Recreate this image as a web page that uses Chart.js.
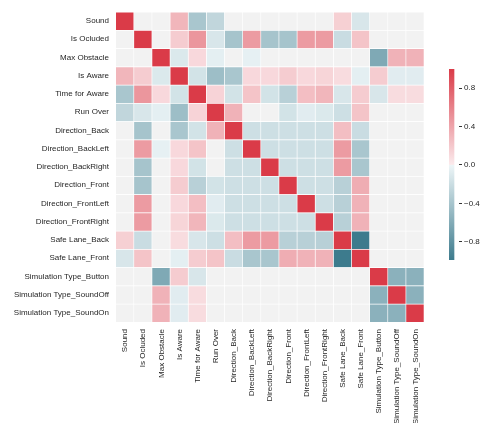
<!DOCTYPE html>
<html><head><meta charset="utf-8">
<script src="https://cdn.jsdelivr.net/npm/chart.js@4/dist/chart.umd.min.js"></script>
<style>
body{margin:0;background:#fff}
#wrap{position:relative;width:483px;height:423px;overflow:hidden}
#hm{position:absolute;left:0;top:0}
#cb{position:absolute;left:440px;top:0}
</style></head>
<body><div id="wrap"><canvas id="hm" width="432" height="423"></canvas><canvas id="cb" width="43" height="423"></canvas></div>
<script>
const variables = ["Sound","Is Ocluded","Max Obstacle","Is Aware","Time for Aware","Run Over","Direction_Back","Direction_BackLeft","Direction_BackRight","Direction_Front","Direction_FrontLeft","Direction_FrontRight","Safe Lane_Back","Safe Lane_Front","Simulation Type_Button","Simulation Type_SoundOff","Simulation Type_SoundOn"];

const rowSound        = [1, 0, 0, 0.3, -0.38, -0.25, 0, 0, 0, 0, 0, 0, 0.15, -0.12, 0, 0, 0];
const rowIsOcluded    = [0, 1, 0, 0.17, 0.48, -0.12, -0.4, 0.45, -0.4, -0.4, 0.45, 0.45, -0.2, 0.22, 0, 0, 0];
const rowMaxObstacle  = [0, 0, 1, -0.1, 0.1, -0.05, 0, -0.04, 0, 0, 0, 0, 0, 0, -0.62, 0.32, 0.32];
const rowIsAware      = [0.3, 0.17, -0.1, 1, -0.15, -0.45, -0.38, 0.1, 0.1, 0.17, 0.1, 0.12, 0.08, -0.05, 0.17, -0.07, -0.07];
const rowTimeForAware = [-0.38, 0.48, 0.1, -0.15, 1, 0.13, -0.15, 0.22, -0.15, -0.3, 0.25, 0.3, -0.12, 0.17, -0.12, 0.08, 0.08];
const rowRunOver      = [-0.25, -0.12, -0.05, -0.45, 0.13, 1, 0.32, 0, 0, -0.15, -0.07, -0.1, -0.18, 0.22, 0, 0, 0];
const rowBack         = [0, -0.4, 0, -0.38, -0.15, 0.32, 1, -0.18, -0.18, -0.18, -0.18, -0.18, 0.25, -0.2, 0, 0, 0];
const rowBackLeft     = [0, 0.45, -0.04, 0.1, 0.22, 0, -0.18, 1, -0.18, -0.18, -0.18, -0.18, 0.45, -0.38, 0, 0, 0];
const rowBackRight    = [0, -0.4, 0, 0.1, -0.15, 0, -0.18, -0.18, 1, -0.18, -0.18, -0.18, 0.45, -0.38, 0, 0, 0];
const rowFront        = [0, -0.4, 0, 0.17, -0.3, -0.15, -0.18, -0.18, -0.18, 1, -0.18, -0.18, -0.3, 0.35, 0, 0, 0];
const rowFrontLeft    = [0, 0.45, 0, 0.1, 0.25, -0.07, -0.18, -0.18, -0.18, -0.18, 1, -0.18, -0.3, 0.32, 0, 0, 0];
const rowFrontRight   = [0, 0.45, 0, 0.12, 0.3, -0.1, -0.18, -0.18, -0.18, -0.18, -0.18, 1, -0.3, 0.32, 0, 0, 0];
const rowSafeBack     = [0.15, -0.2, 0, 0.08, -0.12, -0.18, 0.25, 0.45, 0.45, -0.3, -0.3, -0.3, 1, -0.99, 0, 0, 0];
const rowSafeFront    = [-0.12, 0.22, 0, -0.05, 0.17, 0.22, -0.2, -0.38, -0.38, 0.35, 0.32, 0.32, -0.99, 1, 0, 0, 0];
const rowButton       = [0, 0, -0.62, 0.17, -0.12, 0, 0, 0, 0, 0, 0, 0, 0, 0, 1, -0.55, -0.55];
const rowSoundOff     = [0, 0, 0.32, -0.07, 0.08, 0, 0, 0, 0, 0, 0, 0, 0, 0, -0.55, 1, -0.55];
const rowSoundOn      = [0, 0, 0.32, -0.07, 0.08, 0, 0, 0, 0, 0, 0, 0, 0, 0, -0.55, -0.55, 1];

const matrix = [rowSound,rowIsOcluded,rowMaxObstacle,rowIsAware,rowTimeForAware,rowRunOver,rowBack,rowBackLeft,rowBackRight,rowFront,rowFrontLeft,rowFrontRight,rowSafeBack,rowSafeFront,rowButton,rowSoundOff,rowSoundOn];

const colorbarTicks = [-0.8, -0.4, 0, 0.4, 0.8];

const vmin = Math.min(...matrix.flat());
const vmax = Math.max(...matrix.flat());

// diverging palette: dark end -> tinted light -> grey mid -> tinted light -> dark end
const NEG = [61,123,141], NEG_L = [237,245,247], MID = [242,242,242], POS_L = [251,234,236], POS = [218,59,72];
function mix(a, b, f){ return a.map((x,i)=>Math.round(x + (b[i]-x)*f)); }
function colorFor(v){
  const t = (v - vmin) / (vmax - vmin);
  const m = (0 - vmin) / (vmax - vmin);
  let c;
  if (Math.abs(v) < 0.02) c = MID;
  else if (t < m) c = mix(NEG, NEG_L, t / m);
  else c = mix(POS_L, POS, (t - m) / (1 - m));
  return `rgb(${c[0]},${c[1]},${c[2]})`;
}

const FONT = {family: "'Liberation Sans', Arial, sans-serif", size: 8};
const TXT = '#262626';

const datasets = matrix.map((row, i) => ({
  data: row.map(() => [i, i + 1]),
  backgroundColor: row.map(v => colorFor(v)),
  borderColor: '#ffffff',
  borderWidth: {top: 1, right: 1, bottom: 0, left: 0},
  borderSkipped: false,
  grouped: false,
  barPercentage: 1,
  categoryPercentage: 1
}));

new Chart(document.getElementById('hm'), {
  type: 'bar',
  data: {labels: variables, datasets},
  options: {
    responsive: false, animation: false,
    layout: {padding: {top: 8, right: 3, left: 0, bottom: 0}},
    plugins: {legend: {display: false}, tooltip: {enabled: false}},
    scales: {
      x: {
        type: 'category', position: 'bottom', offset: true,
        grid: {display: false, drawTicks: false}, border: {display: false},
        ticks: {font: FONT, color: TXT, minRotation: 90, maxRotation: 90, padding: 7, autoSkip: false},
        afterFit: s => { s.height = 101; }
      },
      y: {type: 'linear', min: 0, max: variables.length, reverse: true, display: false},
      yl: {
        type: 'category', labels: variables, position: 'left', offset: true,
        grid: {display: false, drawTicks: false}, border: {display: false},
        ticks: {font: FONT, color: TXT, padding: 7, autoSkip: false},
        afterFit: s => { s.width = 116; }
      }
    }
  }
});

new Chart(document.getElementById('cb'), {
  type: 'bar',
  data: {labels: [''], datasets: [{
    data: [[vmin, vmax]],
    barPercentage: 1, categoryPercentage: 1, borderWidth: 0,
    backgroundColor: ctx => {
      const ca = ctx.chart.chartArea;
      if (!ca) return '#f2f2f2';
      const g = ctx.chart.ctx.createLinearGradient(0, ca.bottom, 0, ca.top);
      const m = (0 - vmin) / (vmax - vmin);
      g.addColorStop(0, `rgb(${NEG.join(',')})`);
      g.addColorStop(m - 0.003, `rgb(${NEG_L.join(',')})`);
      g.addColorStop(m, `rgb(${MID.join(',')})`);
      g.addColorStop(m + 0.003, `rgb(${POS_L.join(',')})`);
      g.addColorStop(1, `rgb(${POS.join(',')})`);
      return g;
    }
  }]},
  options: {
    responsive: false, animation: false,
    layout: {padding: {top: 69, bottom: 163, left: 9, right: 0}},
    plugins: {legend: {display: false}, tooltip: {enabled: false}},
    scales: {
      x: {display: false, offset: false},
      y: {
        type: 'linear', position: 'right', min: vmin, max: vmax,
        grid: {display: true, drawOnChartArea: false, drawTicks: true, tickLength: 3, color: '#333', lineWidth: 1},
        border: {display: false},
        afterBuildTicks: s => { s.ticks = colorbarTicks.map(v => ({value: v})); },
        ticks: {font: FONT, color: TXT, padding: 2,
          callback: v => (v < 0 ? '\u2212' : '') + Math.abs(v).toFixed(1)},
        afterFit: s => { s.width = 24; }
      }
    }
  }
});
</script>
</body></html>
